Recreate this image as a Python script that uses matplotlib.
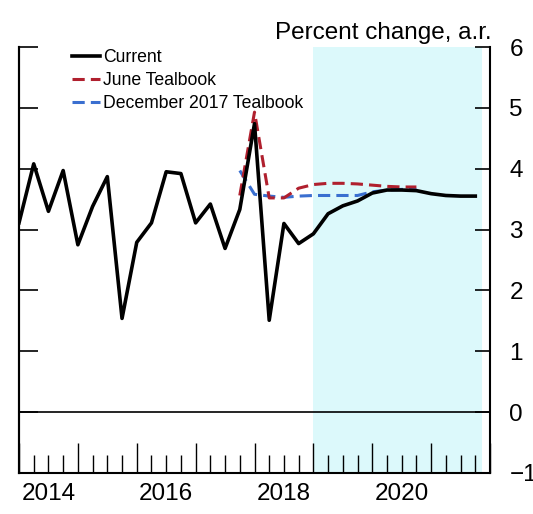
import numpy as np
import matplotlib
matplotlib.use("Agg")
import matplotlib.pyplot as plt
from matplotlib.ticker import MultipleLocator, FixedLocator

plt.rcParams['font.family'] = ['Liberation Sans', 'DejaVu Sans']

# ---- data (quarterly, starting 2014Q1) ----
start_year = 2014
current = [3.11, 4.08, 3.30, 3.97, 2.75, 3.38, 3.87, 1.54, 2.79, 3.11, 3.95, 3.92,
           3.11, 3.42, 2.69, 3.33, 4.74, 1.51, 3.10, 2.77, 2.93, 3.26, 3.39, 3.47,
           3.60, 3.65, 3.65, 3.64, 3.59, 3.56, 3.55, 3.55]
june_start = 15
june_tb = [3.56, 4.93, 3.52, 3.52, 3.68, 3.74, 3.76, 3.76, 3.75, 3.73, 3.71, 3.70, 3.70]
dec_start = 15
dec_tb = [3.97, 3.58, 3.55, 3.53, 3.55, 3.56, 3.56, 3.56, 3.56, 3.62, 3.65, 3.66, 3.66]
year_labels = ['2014', '2016', '2018', '2020']
y_ticks = [-1, 0, 1, 2, 3, 4, 5, 6]
shade_start, shade_end = 2019.0, 2021.86

x_cur = start_year + np.arange(len(current)) / 4
x_june = start_year + (june_start + np.arange(len(june_tb))) / 4
x_dec = start_year + (dec_start + np.arange(len(dec_tb))) / 4

W, H = 533, 514
fig = plt.figure(figsize=(W / 100, H / 100), dpi=100)
ax = fig.add_axes([19 / W, 1 - 473 / H, (490 - 19) / W, (473 - 47) / H])

ax.axvspan(shade_start, shade_end, color='#dcf9fb', lw=0, zorder=0)
ax.axhline(0, color='black', lw=1.2, zorder=1)

ax.plot(x_dec, dec_tb, color='#3a6fd0', lw=2.2, dashes=(4.0, 2.0), label='December 2017 Tealbook', zorder=3)
ax.plot(x_june, june_tb, color='#b0202e', lw=2.2, dashes=(4.0, 2.0), label='June Tealbook', zorder=4)
ax.plot(x_cur, current, color='black', lw=2.6, label='Current', zorder=5)

ax.set_xlim(2014, 2022)
ax.set_ylim(-1, 6)

ax.spines['top'].set_visible(False)
for s in ['left', 'right', 'bottom']:
    ax.spines[s].set_linewidth(1.5)

# y ticks on right, labels right
ax.yaxis.tick_right()
ax.yaxis.set_major_locator(FixedLocator(y_ticks))
ax.set_yticklabels([str(v).replace('-', '\u2212') for v in y_ticks])
ax.tick_params(axis='y', which='major', direction='in', length=11, width=1.2,
               labelsize=17.5, pad=14, right=True, left=False)
for lab in ax.get_yticklabels():
    lab.set_horizontalalignment('left')

# left ticks (inward)
secy = ax.secondary_yaxis('left')
secy.yaxis.set_major_locator(FixedLocator(y_ticks))
secy.tick_params(direction='in', length=14, width=1.2, labelleft=False)
secy.spines['left'].set_linewidth(1.5)

# x ticks: years long, quarters short, labels at mid-year
ax.xaxis.set_major_locator(MultipleLocator(1))
ax.xaxis.set_minor_locator(MultipleLocator(0.25))
ax.tick_params(axis='x', which='major', direction='in', length=21.5, width=1.0, labelbottom=False)
ax.tick_params(axis='x', which='minor', direction='in', length=13, width=1.0)

secx = ax.secondary_xaxis('bottom')
secx.xaxis.set_major_locator(FixedLocator([int(y) + 0.5 for y in year_labels]))
secx.set_xticklabels(year_labels)
secx.tick_params(length=0, labelsize=17.5, pad=7)
secx.spines['bottom'].set_visible(False)

fig.text(492 / W, 1 - 33 / H, 'Percent change, a.r.', ha='right', va='center', fontsize=17.5)

handles, labels = ax.get_legend_handles_labels()
order = [2, 1, 0]
leg = ax.legend([handles[i] for i in order], [labels[i] for i in order],
                loc='upper left', bbox_to_anchor=(72 / W, 1 - 49 / H),
                bbox_transform=fig.transFigure, frameon=False, fontsize=12.7,
                handlelength=1.6, handletextpad=0.15, labelspacing=0.35,
                borderpad=0, borderaxespad=0)

fig.savefig('out.png', dpi=100)
